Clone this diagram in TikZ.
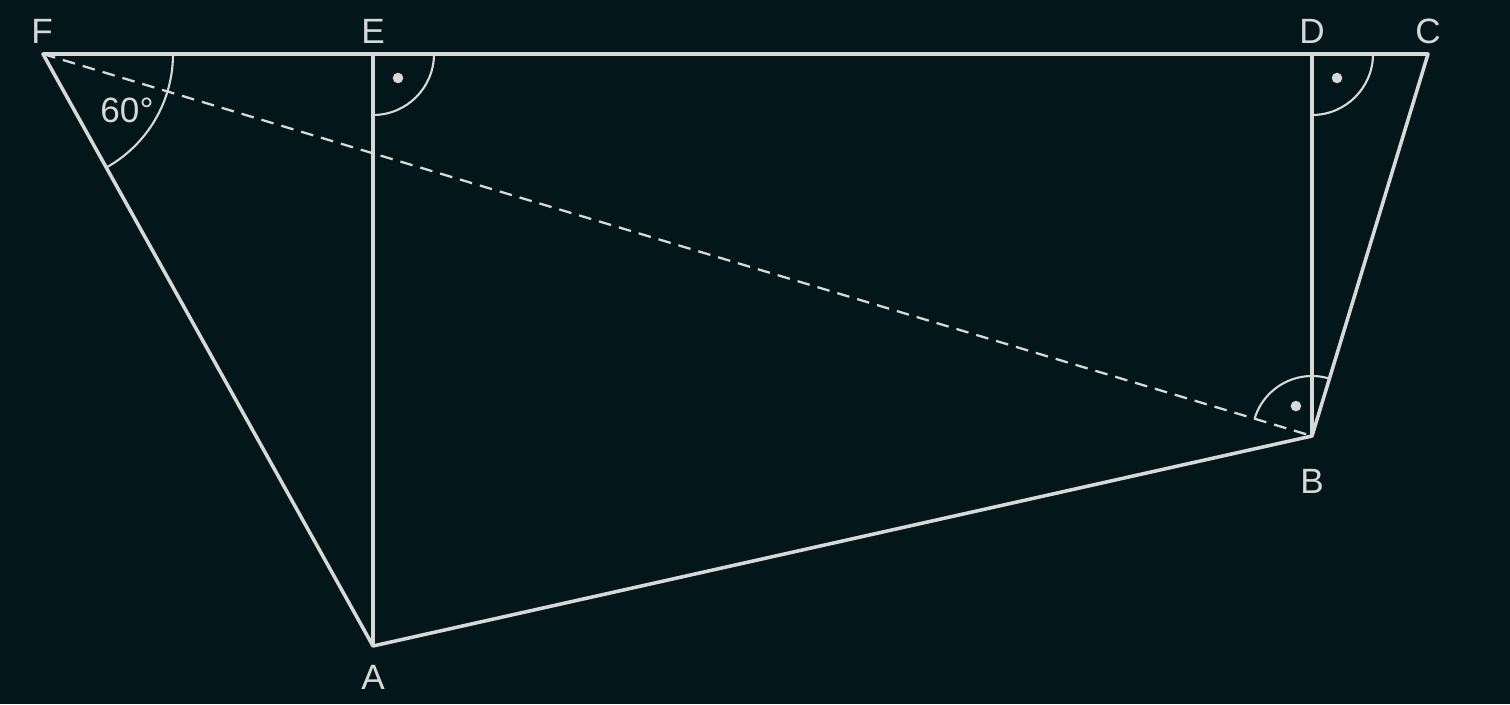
\documentclass[tikz,border=0pt]{standalone}
\usepackage{fontspec}
\setmainfont{Liberation Sans}
\usetikzlibrary{calc}
\definecolor{bgdark}{HTML}{03171B}
\definecolor{chalk}{HTML}{D8D8D8}
\tikzset{
	edge/.style={chalk,line width=1pt},
	anglearc/.style={chalk,line width=0.6pt},
	ptlabel/.style={text=chalk,font=\fontsize{10}{12}\selectfont,inner sep=0pt}
}
\begin{document}
\begin{tikzpicture}
	\fill[bgdark] (0,0) rectangle (15.1,7.04);
	\useasboundingbox (0,0) rectangle (15.1,7.04);

	%POINTS
	\coordinate (F) at (0.43,6.50);
	\coordinate (E) at (3.73,6.50);
	\coordinate (D) at (13.12,6.50);
	\coordinate (C) at (14.28,6.50);
	\coordinate (B) at (13.12,2.68);
	\coordinate (A) at (3.73,0.58);

	%SIDES
	\draw[edge,line join=round] (F)--(C)--(B)--(A)--cycle;
	\draw[edge] (E)--(A);
	\draw[edge] (D)--(B);
	\draw[chalk,line width=0.65pt,dash pattern=on 3.6pt off 2.3pt] (F)--(B); %diagonal

	%ANGLES
	\draw[anglearc] ($(F)+(1.30,0)$) arc (0:-60.9:1.30);
	\node[ptlabel] (ang) at (1.27,5.94) {60°};
	\foreach \p in {E,D}{
		\draw[anglearc] ($(\p)+(0.61,0)$) arc (0:-90:0.61); %right angle
		\fill[chalk] ($(\p)+(0.25,-0.24)$) circle (1.5pt); %dot
	}
	\draw[anglearc] ($(B)+(73.2:0.60)$) arc (73.2:163.3:0.60);
	\fill[chalk] ($(B)+(118.25:0.34)$) circle (1.5pt);

	%LABELS
	\foreach \p/\x/\y in {F/0.42/6.73,E/3.73/6.73,D/13.12/6.73,C/14.28/6.73,B/13.12/2.23,A/3.73/0.27}{
		\node[ptlabel] (l\p) at (\x,\y) {\p};
	}
\end{tikzpicture}
\end{document}
